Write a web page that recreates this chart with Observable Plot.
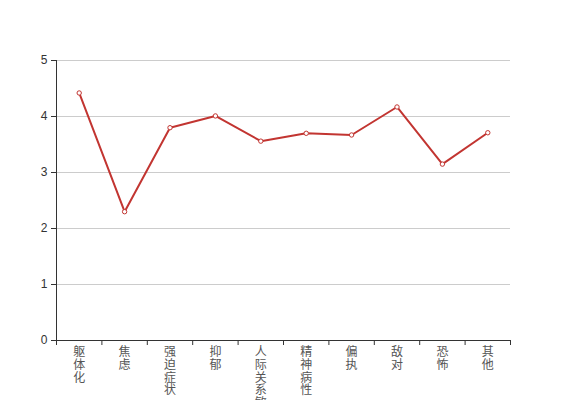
<!DOCTYPE html>
<html>
<head>
<meta charset="utf-8">
<script src="https://cdn.jsdelivr.net/npm/d3@7"></script>
<script src="https://cdn.jsdelivr.net/npm/@observablehq/plot@0.6"></script>
<style>
  html, body { margin: 0; padding: 0; background: #fff; overflow: hidden; }
  svg { display: block; }
</style>
</head>
<body>
<div id="chart"></div>
<script>
const categories = ["躯体化", "焦虑", "强迫症状", "抑郁", "人际关系敏感", "精神病性", "偏执", "敌对", "恐怖", "其他"];
const values = [4.42, 2.30, 3.80, 4.01, 3.56, 3.70, 3.67, 4.17, 3.15, 3.71];
const yTicks = [0, 1, 2, 3, 4, 5];

const data = categories.map((c, i) => ({cat: c, idx: i + 0.5, value: values[i]}));
const boundaries = d3.range(0, categories.length + 1);

const red = "#c23531";
const axisColor = "#333";

const chart = Plot.plot({
  width: 567,
  height: 400,
  marginLeft: 56,
  marginRight: 57,
  marginTop: 60,
  marginBottom: 60,
  style: {fontFamily: "'Liberation Sans', 'Noto Sans CJK SC', sans-serif", fontSize: "12px", color: axisColor, background: "#fff"},
  x: {type: "linear", domain: [0, categories.length], axis: null},
  y: {domain: [0, 5], axis: null},
  marks: [
    Plot.gridY(yTicks.filter(d => d > 0), {stroke: "#ccc", strokeOpacity: 1}),
    Plot.axisY(yTicks, {tickSize: 5, tickPadding: 4, fontSize: 12, tickFormat: d3.format("d"), stroke: axisColor, fill: axisColor, label: null}),
    Plot.axisX(boundaries, {tickSize: 5, tickFormat: () => "", stroke: axisColor, label: null}),
    Plot.ruleX([0], {stroke: axisColor}),
    Plot.ruleY([0], {stroke: axisColor}),
    Plot.text(data, {
      x: "idx", y: () => 0,
      text: d => Array.from(d.cat).join("\n"),
      lineAnchor: "top", lineHeight: 1.05, dy: 7,
      fontSize: 12, fill: "#555",
      fontFamily: "'Noto Sans CJK SC', sans-serif"
    }),
    Plot.line(data, {x: "idx", y: "value", stroke: red, strokeWidth: 2}),
    Plot.dot(data, {x: "idx", y: "value", r: 2.2, fill: "#fff", stroke: red, strokeWidth: 1})
  ]
});
document.getElementById("chart").appendChild(chart);
</script>
</body>
</html>
